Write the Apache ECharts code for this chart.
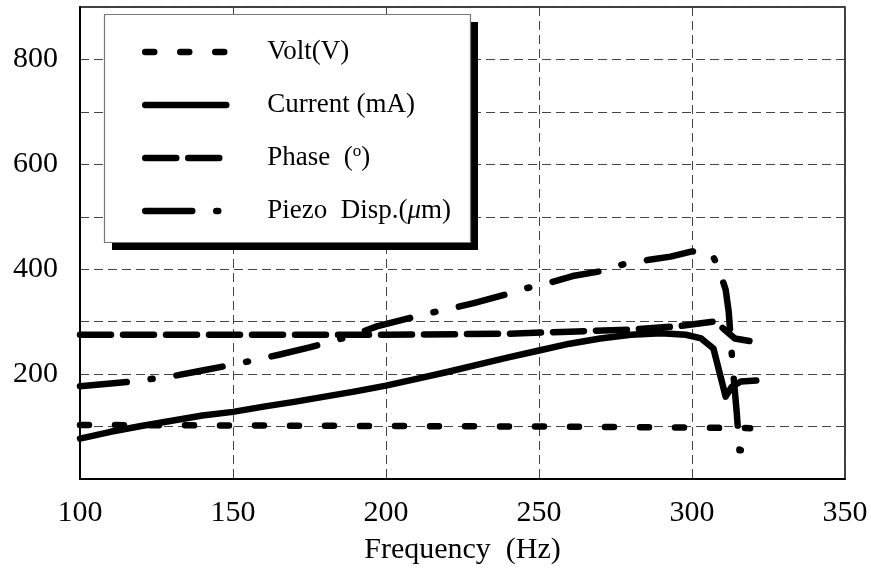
<!DOCTYPE html>
<html>
<head>
<meta charset="utf-8">
<script src="https://cdn.jsdelivr.net/npm/echarts@6/dist/echarts.min.js"></script>
<style>
  html, body { margin: 0; padding: 0; background: #fff; }
  #chart { width: 871px; height: 573px; }
</style>
</head>
<body>
<div id="chart"></div>
<script>
// Frequency sweep of the piezo drive: voltage, current, phase and displacement
const voltFreq = [100, 150, 200, 250, 300, 319];
const voltVals = [103, 102, 101, 100, 98, 97];

const currentFreq = [100, 110, 120, 130, 140, 150, 160, 170, 180, 190, 200, 210, 220, 230, 240, 250, 260, 270, 280, 290, 298, 303, 307, 311, 313, 316, 321];
const currentVals = [77, 90, 101, 111, 121, 128, 138, 147, 157, 167, 178, 191, 204, 218, 232, 245, 258, 268, 275, 278, 275, 268, 249, 157, 176, 186, 188];

const phaseFreq = [100, 150, 200, 240, 260, 280, 295, 307, 310, 314, 320];
const phaseVals = [275, 275, 275, 277, 281, 285, 291, 300, 288, 268, 262];

const piezoFreq = [100, 110, 117, 125, 132, 140, 150, 158, 165, 175, 184, 190, 197, 205, 214, 222, 229, 238, 246, 254, 261, 270, 279, 286, 293, 300, 304, 306.5, 308.5, 311, 312, 313.3, 314.6, 315.5, 320.6];
const piezoVals = [177, 182, 186, 192, 198, 207, 218, 228, 237, 251, 265, 276, 291, 303, 316, 326, 336, 350, 364, 375, 387, 396, 412, 418, 424, 434, 433, 429, 405, 361, 319, 214, 128, 55, 53];

const xTicks = [100, 150, 200, 250, 300, 350];
const yLabelled = [200, 400, 600, 800];

const seriesNames = ['Volt(V)', 'Current (mA)', 'Phase  (o)', 'Piezo  Disp.(μm)'];

const FONT = 'Liberation Serif';
const LW = 6.5;

function pairs(xs, ys) { return xs.map((x, i) => [x, ys[i]]); }

function lineSeries(name, data, dash) {
  return {
    name: name,
    type: 'line',
    data: data,
    symbol: 'none',
    smooth: false,
    animation: false,
    silent: true,
    z: 5,
    color: '#000',
    itemStyle: { color: '#000' },
    lineStyle: { color: '#000', width: LW, type: dash, cap: 'round', join: 'round' }
  };
}

const chart = echarts.init(document.getElementById('chart'));

chart.setOption({
  backgroundColor: '#fff',
  animation: false,
  grid: {
    left: 80, right: 26, top: 7, bottom: 94,
    show: true, borderColor: '#000', borderWidth: 1.5, backgroundColor: 'transparent'
  },
  xAxis: {
    type: 'value',
    min: xTicks[0], max: xTicks[xTicks.length - 1], interval: 50,
    name: 'Frequency  (Hz)',
    nameLocation: 'middle',
    nameGap: 56,
    nameTextStyle: { fontFamily: FONT, fontSize: 30, color: '#000' },
    axisLine: { show: true, lineStyle: { color: '#000', width: 2 } },
    axisTick: { show: false },
    axisLabel: { fontFamily: FONT, fontSize: 30, color: '#000', margin: 19 },
    splitLine: { show: true, lineStyle: { color: '#444', width: 1, type: [9, 5] } }
  },
  yAxis: {
    type: 'value',
    min: 0, max: 900, interval: 100,
    axisLine: { show: true, lineStyle: { color: '#000', width: 2 } },
    axisTick: { show: false },
    axisLabel: {
      fontFamily: FONT, fontSize: 30, color: '#000', margin: 22,
      formatter: v => (yLabelled.indexOf(v) >= 0 ? String(v) : '')
    },
    splitLine: { show: true, lineStyle: { color: '#444', width: 1, type: [9, 5] } }
  },
  graphic: [
    { type: 'rect', z: 100, shape: { x: 112, y: 22, width: 366, height: 228 }, style: { fill: '#000' }, silent: true },
    { type: 'rect', z: 101, shape: { x: 104.5, y: 14.5, width: 366, height: 228 }, style: { fill: '#fff', stroke: '#777', lineWidth: 1.2 }, silent: true }
  ],
  legend: {
    orient: 'vertical',
    left: 142, top: 37,
    padding: 0,
    z: 120,
    itemWidth: 81, itemHeight: 14, itemGap: 23,
    selectedMode: false,
    data: seriesNames,
    itemStyle: { opacity: 0 },
    lineStyle: { width: LW },
    textStyle: {
      fontFamily: FONT, fontSize: 27, color: '#000', lineHeight: 30,
      rich: {
        g: { width: 36 },
        t: { fontFamily: FONT, fontSize: 27, color: '#000', lineHeight: 30 },
        sup: { fontFamily: FONT, fontSize: 17, color: '#000', lineHeight: 18, verticalAlign: 'top' },
        it: { fontFamily: FONT, fontSize: 27, color: '#000', lineHeight: 30, fontStyle: 'italic' }
      }
    },
    formatter: function (name) {
      if (name === seriesNames[2]) return '{g| }{t|Phase  (}{sup|o}{t|)}';
      if (name === seriesNames[3]) return '{g| }{t|Piezo  Disp.(}{it|μ}{t|m)}';
      return '{g| }{t|' + name + '}';
    }
  },
  series: [
    lineSeries(seriesNames[0], pairs(voltFreq, voltVals), [9, 26]),
    lineSeries(seriesNames[1], pairs(currentFreq, currentVals), 'solid'),
    lineSeries(seriesNames[2], pairs(phaseFreq, phaseVals), [31, 12]),
    lineSeries(seriesNames[3], pairs(piezoFreq, piezoVals), [47, 24, 2, 24])
  ]
});
</script>
</body>
</html>
